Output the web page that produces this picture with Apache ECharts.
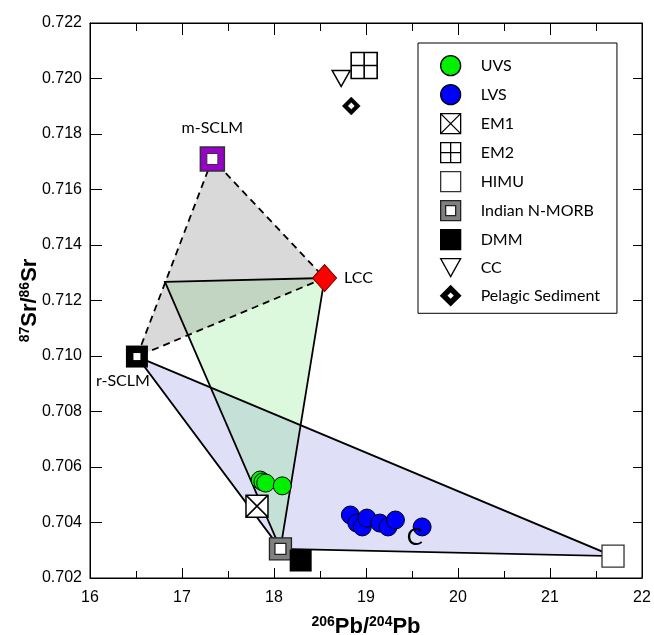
<!DOCTYPE html>
<html><head><meta charset="utf-8">
<script src="https://cdn.jsdelivr.net/npm/echarts/dist/echarts.min.js"></script>
<style>html,body{margin:0;padding:0;background:#fff}#c{width:654px;height:635px}</style>
</head><body><div id="c"></div>
<script>
// ---- data (x = 206Pb/204Pb, y = 87Sr/86Sr) ----
const uvs = [[17.85,0.70553],[17.88,0.70546],[17.91,0.70542],[18.09,0.70532]];
const lvs = [[18.83,0.70427],[18.90,0.70398],[18.96,0.70384],[19.01,0.70416],[19.15,0.70398],[19.24,0.70384],[19.32,0.70409],[19.61,0.70384]];
const em1 = [[17.815,0.70459]];
const em2 = [[18.98,0.72047]];
const himu = [[21.685,0.70279]];
const nmorb = [[18.07,0.70305]];
const dmm = [[18.29,0.70263]];
const cc = [[18.73,0.72000]];
const pelagic = [[18.84,0.71901]];
const mSCLM = [[17.33,0.71710]];
const rSCLM = [[16.51,0.70998]];
const lcc = [[18.55,0.71281]];
const apex = [16.815,0.71267];
const noteC = [[19.53,0.70348]];
const xTickValues = [16,17,18,19,20,21,22];
const yTickValues = [0.702,0.704,0.706,0.708,0.710,0.712,0.714,0.716,0.718,0.720,0.722];

// mixing fields (vertices taken from the end-member arrays)
const fields = [
  {verts:[rSCLM[0], himu[0], nmorb[0]], fill:'rgba(150,150,230,0.30)', dash:null},
  {verts:[apex, lcc[0], nmorb[0]], fill:'rgba(120,230,120,0.25)', dash:null},
  {verts:[mSCLM[0], rSCLM[0], lcc[0]], fill:'rgba(140,140,140,0.33)', dash:[7,5]}
];

const LBL = 'Lato';
const AX = 'Liberation Sans';
const chart = echarts.init(document.getElementById('c'), null, {renderer:'canvas'});

function sc(name, data, symbol, size, color, border, bw, z, extra){
  return Object.assign({
    name, type:'scatter', data, symbol, symbolSize:size, z,
    itemStyle:{color, borderColor:border, borderWidth:bw, opacity:1},
    emphasis:{disabled:true}, animation:false
  }, extra||{});
}

const titleRich = {
  s:{fontSize:14, fontWeight:'bold', fontFamily:AX, verticalAlign:'top', lineHeight:14, color:'#000'},
  b:{fontSize:22, fontWeight:'bold', fontFamily:AX, lineHeight:24, color:'#000'}
};

const option = {
  animation:false,
  backgroundColor:'#fff',
  grid:{left:90, right:12, top:23, bottom:57, show:true, borderColor:'#000', borderWidth:1,
        containLabel:false, outerBoundsMode:'none'},
  legend:{
    orient:'vertical', left:418, top:43,
    padding:[12,17,7,22], itemGap:7.7, itemWidth:20, itemHeight:20,
    borderColor:'#000', borderWidth:1, backgroundColor:'#fff',
    textStyle:{fontFamily:LBL, fontSize:16, color:'#000', padding:[0,0,0,15]},
    itemStyle:{borderWidth:1.3},
    selectedMode:false,
    data:['UVS','LVS','EM1','EM2','HIMU','Indian N-MORB','DMM','CC','Pelagic Sediment']
  },
  xAxis:[{
    type:'value', min:xTickValues[0], max:xTickValues[xTickValues.length-1], interval:1,
    position:'bottom',
    axisLine:{show:true, lineStyle:{color:'#000', width:1}},
    axisTick:{show:true, inside:true, length:10, lineStyle:{color:'#000'}},
    minorTick:{show:true, splitNumber:2, length:7, lineStyle:{color:'#000'}},
    splitLine:{show:false},
    axisLabel:{fontFamily:AX, fontSize:16, color:'#000', margin:12},
    name:'{s|206}{b|Pb/}{s|204}{b|Pb}', nameLocation:'middle', nameGap:37, nameMoveOverlap:false,
    nameTextStyle:{rich:titleRich}
  },{
    type:'value', min:16, max:22, interval:1, position:'top',
    axisLine:{show:true, lineStyle:{color:'#000'}},
    axisTick:{show:true, inside:true, length:12, lineStyle:{color:'#000'}},
    minorTick:{show:true, splitNumber:2, length:8, lineStyle:{color:'#000'}},
    splitLine:{show:false}, axisLabel:{show:false}
  }],
  yAxis:[{
    type:'value', min:yTickValues[0], max:yTickValues[yTickValues.length-1], interval:0.002,
    position:'left',
    axisLine:{show:true, lineStyle:{color:'#000'}},
    axisTick:{show:true, inside:true, length:12, lineStyle:{color:'#000'}},
    splitLine:{show:false},
    axisLabel:{fontFamily:AX, fontSize:16, color:'#000', margin:8, formatter:v=>v.toFixed(3)},
    name:'{s|87}{b|Sr/}{s|86}{b|Sr}', nameLocation:'middle', nameGap:48, nameRotate:90, nameMoveOverlap:false,
    nameTextStyle:{rich:titleRich}
  },{
    type:'value', min:0.702, max:0.722, interval:0.002, position:'right',
    axisLine:{show:true, lineStyle:{color:'#000'}},
    axisTick:{show:true, inside:true, length:9, lineStyle:{color:'#000'}},
    splitLine:{show:false}, axisLabel:{show:false}
  }],
  series:[
    {
      name:'fields', type:'custom', z:1, animation:false, silent:true,
      data:fields.map((f,i)=>[i]),
      renderItem:(params, api)=>{
        const f = fields[params.dataIndex];
        return {type:'polygon', shape:{points:f.verts.map(v=>api.coord(v))},
                style:{fill:f.fill, stroke:null}};
      }
    },
    {
      name:'field edges', type:'custom', z:2, animation:false, silent:true,
      data:fields.map((f,i)=>[i]),
      renderItem:(params, api)=>{
        const f = fields[params.dataIndex];
        return {type:'polygon', shape:{points:f.verts.map(v=>api.coord(v))},
                style:{fill:'none', stroke:'#000', lineWidth:1.8, lineDash:f.dash}};
      }
    },
    sc('UVS', uvs, 'circle', 18, '#00f000', '#000', 1, 5),
    sc('LVS', lvs, 'circle', 18, '#0000ff', '#000', 1, 5),
    sc('EM1', em1, 'path://M0,0H20V20H0Z M0,0L20,20 M20,0L0,20', 22, '#fff', '#000', 1.5, 6),
    sc('EM2', em2, 'path://M0,0H20V20H0Z M10,0V20 M0,10H20', 26, '#fff', '#000', 1.6, 6),
    sc('HIMU', himu, 'rect', 22, '#fff', '#333', 1.3, 6),
    sc('N-MORB inner', nmorb, 'rect', 11, '#fff', '#fff', 0, 5),
    sc('Indian N-MORB', nmorb, 'path://M0,0H20V20H0Z M5,5V15H15V5Z', 22, '#808080', '#222', 1.3, 6),
    sc('DMM', dmm, 'rect', 22, '#000', '#000', 0, 6),
    sc('CC', cc, 'path://M0,0H20L10,18Z', [18,16], '#fff', '#000', 1.5, 6),
    sc('Pelagic Sediment', pelagic, 'path://M10,0L20,10L10,20L0,10Z M10,6L6,10L10,14L14,10Z', 18, '#000', '#000', 0.5, 6),
    sc('m-SCLM', mSCLM, 'rect', 24, '#9900cc', '#333', 1.5, 6, {
      label:{show:true, position:'top', distance:10, formatter:'m-SCLM', fontFamily:LBL, fontSize:16, color:'#000'}
    }),
    sc('m-SCLM inner', mSCLM, 'rect', 11, '#fff', '#333', 1, 7),
    sc('r-SCLM', rSCLM, 'rect', 22, '#000', '#000', 0, 6, {
      label:{show:true, position:'bottom', distance:5, offset:[-14,0], formatter:'r-SCLM', fontFamily:LBL, fontSize:16, color:'#000'}
    }),
    sc('r-SCLM inner', rSCLM, 'rect', 7, '#fff', '#fff', 0, 7),
    sc('LCC', lcc, 'diamond', [24,27], '#ff0000', '#700', 1, 6, {
      label:{show:true, position:'right', distance:7, formatter:'LCC', fontFamily:LBL, fontSize:16, color:'#000'}
    }),
    sc('note', noteC, 'circle', 0, 'transparent', 'transparent', 0, 7, {
      label:{show:true, position:'inside', formatter:'C', fontFamily:LBL, fontSize:24, color:'#000'}
    })
  ]
};
chart.setOption(option);
</script>
</body></html>
